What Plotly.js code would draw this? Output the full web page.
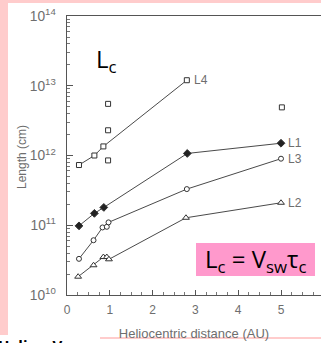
<!DOCTYPE html>
<html>
<head>
<meta charset="utf-8">
<script src="https://cdn.plot.ly/plotly-3.0.1.min.js"></script>
<style>
  html, body { margin: 0; padding: 0; background: #ffffff; }
  #chart { width: 321px; height: 343px; }
</style>
</head>
<body>
<div id="chart"></div>
<script>
// Correlation lengths versus heliocentric distance (Helios, Voyager)
const distL4 = [0.28, 0.64, 0.85, 2.80];
const lenL4 = [7.3e11, 1.0e12, 1.35e12, 1.2e13];
const distL4extra = [0.96, 0.96, 0.96, 5.02];
const lenL4extra = [5.5e12, 2.3e12, 8.5e11, 4.9e12];

const distL1 = [0.28, 0.64, 0.86, 2.81, 5.0];
const lenL1 = [9.8e10, 1.48e11, 1.8e11, 1.07e12, 1.5e12];

const distL3 = [0.28, 0.62, 0.83, 0.93, 0.97, 2.80, 5.0];
const lenL3 = [3.3e10, 6.1e10, 9.3e10, 9.5e10, 1.1e11, 3.3e11, 9.0e11];

const distL2 = [0.26, 0.62, 0.85, 0.93, 0.98, 2.78, 5.0];
const lenL2 = [1.83e10, 2.67e10, 3.5e10, 3.5e10, 3.25e10, 1.28e11, 2.1e11];

const seriesNames = ['L4', 'L1', 'L3', 'L2'];

const W = 321, H = 343;
const M = { l: 67, r: 0, t: 16, b: 48 };
const PW = W - M.l - M.r, PH = H - M.t - M.b;
const px = v => (v - M.l) / PW;          // page x (px) -> paper
const py = v => (H - M.b - v) / PH;       // page y (px) -> paper

const lineColor = '#4a4a4a';
const textGray = '#6e6e6e';

function lineTrace(x, y, symbol, size, fillColor) {
  return {
    x: x, y: y, mode: 'lines+markers', type: 'scatter',
    line: { color: lineColor, width: 1 },
    marker: {
      symbol: symbol, size: size, color: fillColor,
      line: { color: '#333', width: 1 }
    },
    hoverinfo: 'skip'
  };
}

const traces = [
  lineTrace(distL4, lenL4, 'square', 5, '#ffffff'),
  { x: distL4extra, y: lenL4extra, mode: 'markers', type: 'scatter',
    marker: { symbol: 'square', size: 5, color: '#ffffff', line: { color: '#333', width: 1 } },
    hoverinfo: 'skip' },
  lineTrace(distL1, lenL1, 'diamond', 6, '#222222'),
  lineTrace(distL3, lenL3, 'circle', 5, '#ffffff'),
  lineTrace(distL2, lenL2, 'triangle-up', 6, '#ffffff')
];

// End-of-line series labels
const ends = [
  [distL4, lenL4], [distL1, lenL1], [distL3, lenL3], [distL2, lenL2]
];
const annotations = ends.map((e, i) => ({
  x: e[0][e[0].length - 1], y: Math.log10(e[1][e[1].length - 1]),
  xref: 'x', yref: 'y', text: seriesNames[i], showarrow: false,
  xanchor: 'left', yanchor: 'middle', xshift: 5,
  font: { family: 'Liberation Sans, Arial, sans-serif', size: 12, color: textGray }
}));

annotations.push({
  x: px(22), y: py(157), xref: 'paper', yref: 'paper', xanchor: 'center', yanchor: 'middle',
  text: 'Length (cm)', textangle: -90, showarrow: false,
  font: { family: 'Liberation Sans, Arial, sans-serif', size: 12, color: textGray }
});
annotations.push({
  x: px(94), y: py(60), xref: 'paper', yref: 'paper', xanchor: 'left', yanchor: 'middle',
  text: 'L<sub>c</sub>', showarrow: false,
  font: { family: 'Open Sans, sans-serif', size: 24, color: '#000' }
});
annotations.push({
  x: px(255.5), y: py(260), xref: 'paper', yref: 'paper', xanchor: 'center', yanchor: 'middle',
  text: 'L<sub>c</sub> = V<sub>sw</sub>τ<sub>c</sub>', showarrow: false,
  font: { family: 'Open Sans, sans-serif', size: 24, color: '#000' }
});
annotations.push({
  x: px(-4), y: py(333), xref: 'paper', yref: 'paper', xanchor: 'left', yanchor: 'top',
  text: '<b>Helios, Voyager</b>', showarrow: false,
  font: { family: 'Open Sans, sans-serif', size: 15, color: '#000' }
});

const shapes = [
  // pink page frame
  { type: 'rect', xref: 'paper', yref: 'paper', x0: px(0), x1: px(8), y0: py(335), y1: py(0),
    fillcolor: '#ffcccc', line: { width: 0 }, layer: 'below' },
  { type: 'rect', xref: 'paper', yref: 'paper', x0: px(0), x1: px(321), y0: py(3), y1: py(0),
    fillcolor: '#ffcccc', line: { width: 0 }, layer: 'below' },
  { type: 'rect', xref: 'paper', yref: 'paper', x0: px(100), x1: px(321), y0: py(339), y1: py(337),
    fillcolor: '#ffcccc', line: { width: 0 }, layer: 'below' },
  // formula box
  { type: 'rect', xref: 'paper', yref: 'paper', x0: px(196), x1: px(315), y0: py(276), y1: py(243),
    fillcolor: '#ff99cc', line: { width: 0 }, layer: 'below' }
];

const layout = {
  width: W, height: H, margin: M,
  paper_bgcolor: '#ffffff', plot_bgcolor: 'rgba(0,0,0,0)',
  showlegend: false,
  font: { family: 'Liberation Sans, Arial, sans-serif', color: textGray, size: 11 },
  xaxis: {
    range: [0, PW / 42.8], showgrid: false, zeroline: false,
    showline: true, linecolor: '#555', linewidth: 1, mirror: true,
    tickmode: 'linear', tick0: 0, dtick: 1,
    ticks: 'inside', ticklen: 5, tickcolor: '#555', ticklabelstandoff: 4,
    minor: { dtick: 0.25, ticks: 'inside', ticklen: 3, tickcolor: '#777', showgrid: false },
    tickfont: { size: 12, color: textGray },
    title: { text: 'Heliocentric distance (AU)', font: { size: 13, color: textGray }, standoff: 12 }
  },
  yaxis: {
    type: 'log', range: [10, 14], showgrid: false, zeroline: false,
    showline: true, linecolor: '#555', linewidth: 1,
    dtick: 1, exponentformat: 'power',
    ticks: 'inside', ticklen: 6, tickcolor: '#555', ticklabelstandoff: 8,
    minor: { dtick: 'D1', ticks: 'inside', ticklen: 3, tickcolor: '#777', showgrid: false },
    tickfont: { size: 11, color: textGray }
  },
  annotations: annotations,
  shapes: shapes
};

Plotly.newPlot('chart', traces, layout, { displayModeBar: false, staticPlot: true });
</script>
</body>
</html>
